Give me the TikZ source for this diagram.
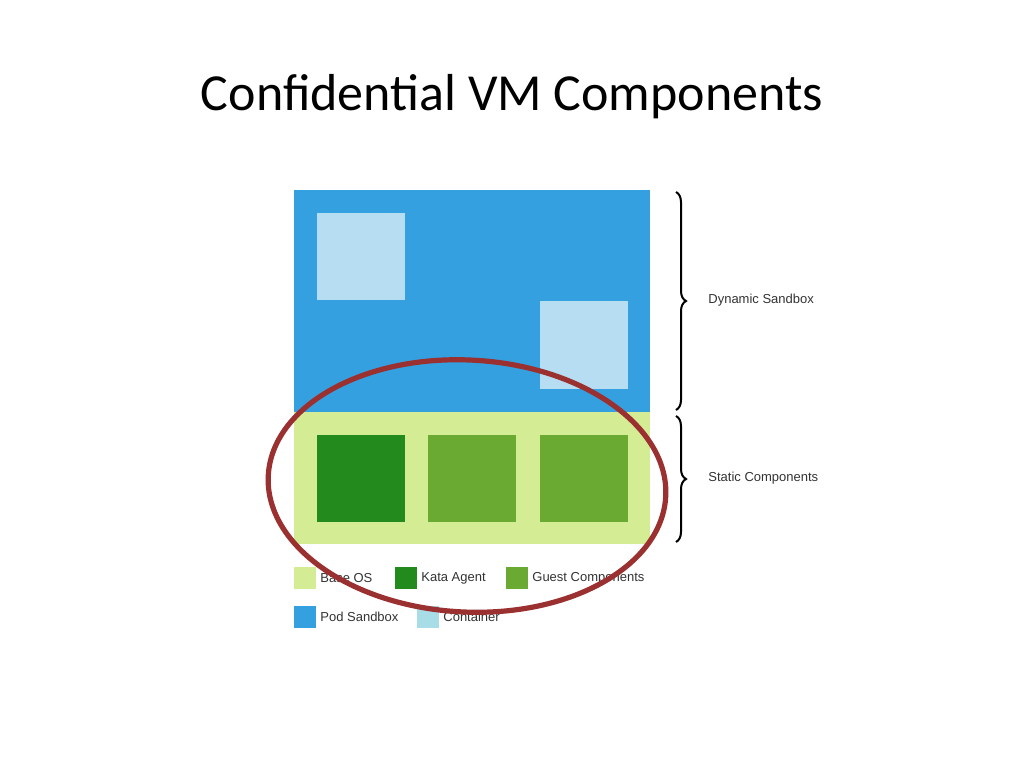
\documentclass[tikz,border=0pt]{standalone}
\usepackage{fontspec}
\setmainfont{Liberation Sans}
\newfontfamily\titlefont{Carlito}
\usetikzlibrary{decorations.pathreplacing}
\definecolor{podblue}{HTML}{35A0E0}
\definecolor{baseos}{HTML}{D4EC94}
\definecolor{contcol}{HTML}{B6DDF1}
\definecolor{contleg}{HTML}{A8DCE6}
\definecolor{kata}{HTML}{238B1E}
\definecolor{guest}{HTML}{6AAA32}
\definecolor{ring}{HTML}{9B3030}
\begin{document}
\begin{tikzpicture}[x=0.5pt,y=-0.5pt,
  lbl/.style={font=\fontsize{6.5}{8}\selectfont,text=black!80,anchor=west,inner sep=0},
  brc/.style={decorate,decoration={brace,amplitude=5pt},line width=1pt}]
\useasboundingbox[fill=white] (0,0) rectangle (1024,768);
\node[font=\titlefont\fontsize{26}{30}\selectfont] (title) at (512,97) {Confidential VM Components};
\fill[podblue] (294,190) rectangle (650,412);
\fill[baseos] (294,412) rectangle (650,544);
\fill[contcol] (317,213) rectangle (405,300);
\fill[contcol] (540,301) rectangle (628,389);
\fill[kata] (317,435) rectangle (405,522);
\fill[guest] (428,435) rectangle (516,522);
\fill[guest] (540,435) rectangle (628,522);
\coordinate (b1t) at (676,192); \coordinate (b1b) at (676,410);
\coordinate (b2t) at (676,416); \coordinate (b2b) at (676,542);
\draw[brc] (b1t) -- (b1b);
\draw[brc] (b2t) -- (b2b);
\node[lbl] (dyn) at (708,300) {Dynamic Sandbox};
\node[lbl] (stat) at (708,478) {Static Components};
\fill[baseos] (294,567) rectangle (316,589);
\node[lbl] (l1) at (320,578) {Base OS};
\fill[kata] (395,567) rectangle (417,589);
\node[lbl] (l2) at (421,578) {Kata Agent};
\fill[guest] (506,567) rectangle (528,589);
\node[lbl] (l3) at (532,578) {Guest Components};
\fill[podblue] (294,606) rectangle (316,628);
\node[lbl] (l4) at (320,617) {Pod Sandbox};
\fill[contleg] (417,606) rectangle (439,628);
\node[lbl] (l5) at (443,617) {Container};
\draw[ring,line width=2.6pt,rotate around={-3:(467,486)}] (467,486) ellipse [x radius=199, y radius=126];
\end{tikzpicture}
\end{document}
